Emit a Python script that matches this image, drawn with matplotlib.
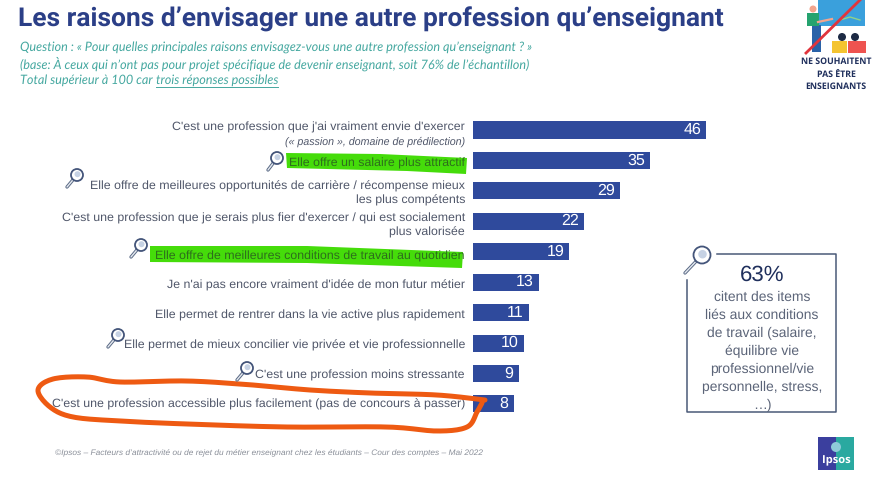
import matplotlib
matplotlib.use("Agg")
import matplotlib.pyplot as plt
import numpy as np
from matplotlib.patches import Circle, Polygon, Rectangle

plt.rcParams["text.hinting"] = "no_hinting"

# valeurs
categories = [
    "C'est une profession que j'ai vraiment envie d'exercer",
    "Elle offre un salaire plus attractif",
    "Elle offre de meilleures opportunités de carrière / récompense mieux\nles plus compétents",
    "C'est une profession que je serais plus fier d'exercer / qui est socialement\nplus valorisée",
    "Elle offre de meilleures conditions de travail au quotidien",
    "Je n'ai pas encore vraiment d'idée de mon futur métier",
    "Elle permet de rentrer dans la vie active plus rapidement",
    "Elle permet de mieux concilier vie privée et vie professionnelle",
    "C'est une profession moins stressante",
    "C'est une profession accessible plus facilement (pas de concours à passer)",
]
values = [46, 35, 29, 22, 19, 13, 11, 10, 9, 8]
label_y = [127, 163, 193.5, 225.5, 256, 285.5, 315, 345, 375, 404]

title = "Les raisons d’envisager une autre profession qu’enseignant"
question_lines = [
    "Question : « Pour quelles principales raisons envisagez-vous une autre profession qu’enseignant ? »",
    "(base: À ceux qui n’ont pas pour projet spécifique de devenir enseignant, soit 76% de l’échantillon)",
]
total_line = "Total supérieur à 100 car "
total_underlined = "trois réponses possibles"
source = "©Ipsos – Facteurs d’attractivité ou de rejet du métier enseignant chez les étudiants – Cour des comptes – Mai 2022"
callout_big = "63%"
callout_lines = ["citent des items", "liés aux conditions", "de travail (salaire,", "équilibre vie",
                 "professionnel/vie", "personnelle, stress,", "…)"]
badge_lines = ["NE SOUHAITENT", "PAS ÊTRE", "ENSEIGNANTS"]

BLUE = "#2f4a9c"
NAVY = "#2b3f87"
GREY = "#50576a"
TEAL = "#45a8a0"
SLATE = "#5b6478"
HIGHLIGHT = "#45dc0a"

W, H = 882, 482
fig = plt.figure(figsize=(W / 100, H / 100), dpi=100)


def magnifier(ax, cx, cy, ex, ey, r=6):
    # loupe : manche puis verre
    ax.plot([cx + (ex - cx) * 0.35, ex], [cy + (ey - cy) * 0.35, ey], color="#5a6a85", lw=2.4,
            solid_capstyle="round", zorder=6)
    ax.plot([cx + (ex - cx) * 0.4, ex], [cy + (ey - cy) * 0.4, ey], color="#e4e8ef", lw=1,
            solid_capstyle="round", zorder=6)
    ax.add_patch(Circle((cx, cy), r, fc="white", ec="#44557a", lw=1.3, zorder=7))
    ax.add_patch(Circle((cx + 0.5, cy - 0.8), r * 0.5, fc="#c6d2e4", ec="none", zorder=8))


def smooth(xs, ys, n=12):
    # trait de feutre : Catmull-Rom entre les points relevés
    p = np.column_stack([xs, ys]).astype(float)
    p = np.vstack([p[0], p, p[-1]])
    out = []
    for i in range(1, len(p) - 2):
        for t in np.linspace(0, 1, n, endpoint=False):
            out.append(0.5 * (2 * p[i] + (p[i + 1] - p[i - 1]) * t
                              + (2 * p[i - 1] - 5 * p[i] + 4 * p[i + 1] - p[i + 2]) * t ** 2
                              + (3 * p[i] - p[i - 1] - 3 * p[i + 1] + p[i + 2]) * t ** 3))
    out.append(p[-1])
    return np.array(out)


# barres
bar_left, bar_right, bar_top, bar_bottom = 473, 882, 115, 420
ax = fig.add_axes([bar_left / W, 1 - bar_bottom / H, (bar_right - bar_left) / W, (bar_bottom - bar_top) / H])
step = 30.44
ax.set_xlim(0, (bar_right - bar_left) / 5.065)
ax.set_ylim((bar_bottom - 130) / step, (bar_top - 130) / step)
ax.barh(range(len(values)), values, height=0.56, color=BLUE)
for i, v in enumerate(values):
    ax.annotate(str(v), (v, i), xytext=(-3.6, 0), textcoords="offset points", ha="right", va="center",
                color="white", fontsize=11.5, family="Liberation Sans")
ax.axis("off")

# tout le reste en coordonnées pixels
ov = fig.add_axes([0, 0, 1, 1], zorder=5)
ov.set_xlim(0, W)
ov.set_ylim(H, 0)
ov.axis("off")
ov.patch.set_alpha(0)

ov.text(18, 19, title, fontsize=19, fontweight="bold", color=NAVY, va="center",
        family=["Liberation Sans Narrow", "Roboto"])

for y, line in zip([47, 64], question_lines):
    ov.text(20, y, line, fontsize=9.1, style="italic", color=TEAL, va="center", family="Lato")
t = ov.text(20, 80, total_line, fontsize=9.1, style="italic", color=TEAL, va="center", family="Lato")
fig.canvas.draw()
bb = t.get_window_extent()
t2 = ov.text(bb.x1, 80, total_underlined, fontsize=9.1, style="italic", color=TEAL, va="center", family="Lato")
bb2 = t2.get_window_extent()
ov.plot([bb2.x0, bb2.x1], [87, 87], color=TEAL, lw=0.7)

# surlignage vert sous le texte
ov.add_patch(Polygon([(286, 153), (380, 154), (467, 158), (466, 174), (407, 171), (287, 168)],
                     fc=HIGHLIGHT, ec="none", zorder=2))
ov.add_patch(Polygon([(150, 246), (307, 246), (463, 252), (462, 268), (307, 263), (150, 262)],
                     fc=HIGHLIGHT, ec="none", zorder=2))

for i, (y, lab) in enumerate(zip(label_y, categories)):
    col = "#2d6e1c" if i in (1, 4) else GREY
    ov.text(465, y, lab, ha="right", va="center", fontsize=8.94, color=col, linespacing=1.27,
            family="Liberation Sans")
ov.text(465, 142, "(« passion », domaine de prédilection)", ha="right", va="center", fontsize=7.7,
        style="italic", color=GREY, family="Liberation Sans")

# feutre orange
orange_x = [485, 437, 370, 310, 253, 187, 120, 87, 53, 38, 50, 73, 120, 187, 287, 387, 437, 467, 477, 482]
orange_y = [400, 395, 393, 390, 385, 381, 382, 377, 379, 390, 407, 417, 421, 424, 427, 427, 431, 427, 412, 403]
stroke = smooth(orange_x, orange_y)
ov.plot(stroke[:, 0], stroke[:, 1], color="#ee5a12", lw=3.6, solid_joinstyle="round", solid_capstyle="round", zorder=5)

for cx, cy, ex, ey in [(277, 158, 268, 170), (77, 175, 67, 187), (141, 245, 131, 257),
                       (118, 335, 108, 347), (247, 368, 237, 380)]:
    magnifier(ov, cx, cy, ex, ey)

# encadré
ov.plot([717, 836, 836, 687, 687], [254, 254, 412, 412, 280], color="#4a5a78", lw=1.1)
magnifier(ov, 702, 255, 685, 273, r=8.5)
ov.text(762, 275, callout_big, ha="center", va="center", fontsize=16, color="#1f2f5c", family="Liberation Sans")
for y, line in zip([297, 315, 333, 351, 369, 387, 405], callout_lines):
    ov.text(762, y, line, ha="center", va="center", fontsize=10, color=SLATE, family="Liberation Sans")

ov.text(55, 453, source, fontsize=6.05, style="italic", color="#8a8f99", va="center", family="Liberation Sans")

# logo Ipsos
ov.add_patch(Rectangle((818, 437), 18, 33, fc="#3b3f9e", ec="none"))
ov.add_patch(Rectangle((836, 437), 18, 33, fc="#2aa9a0", ec="none"))
ov.add_patch(Circle((836, 447), 5, fc="#8ecbd8", ec="none"))
ov.text(836, 461, "Ipsos", ha="center", va="center", color="white", fontsize=8, fontweight="bold", family="Open Sans")

# vignette en haut à droite
ov.add_patch(Rectangle((818, 0), 47, 26, fc="#3aa0dc", ec="none"))
ov.plot([840, 850, 860], [20, 17, 20], color="#8fd28a", lw=1)
ov.add_patch(Rectangle((812, 25), 9, 27, fc="#2a62a8", ec="none"))
ov.add_patch(Rectangle((807, 13), 12, 13, fc="#25a36f", ec="none"))
ov.plot([818, 832], [22, 19], color="#f2a58e", lw=1.6)
ov.add_patch(Circle((813, 9), 3.5, fc="#f2a58e", ec="none"))
ov.add_patch(Rectangle((832, 41), 15, 12, fc="#f4c431", ec="none"))
ov.add_patch(Rectangle((848, 41), 18, 12, fc="#ee5350", ec="none"))
ov.add_patch(Circle((842, 37), 4, fc="#1d2a44", ec="none"))
ov.add_patch(Circle((855, 37), 4, fc="#1d2a44", ec="none"))
ov.plot([860, 806], [0, 53], color="#e0343c", lw=2)
for y, line in zip([62, 75, 87], badge_lines):
    ov.text(836, y, line, ha="center", va="center", fontsize=6.3, fontweight="bold", color="#1f2f5c", family="Open Sans")

fig.savefig("out.png", dpi=100)
